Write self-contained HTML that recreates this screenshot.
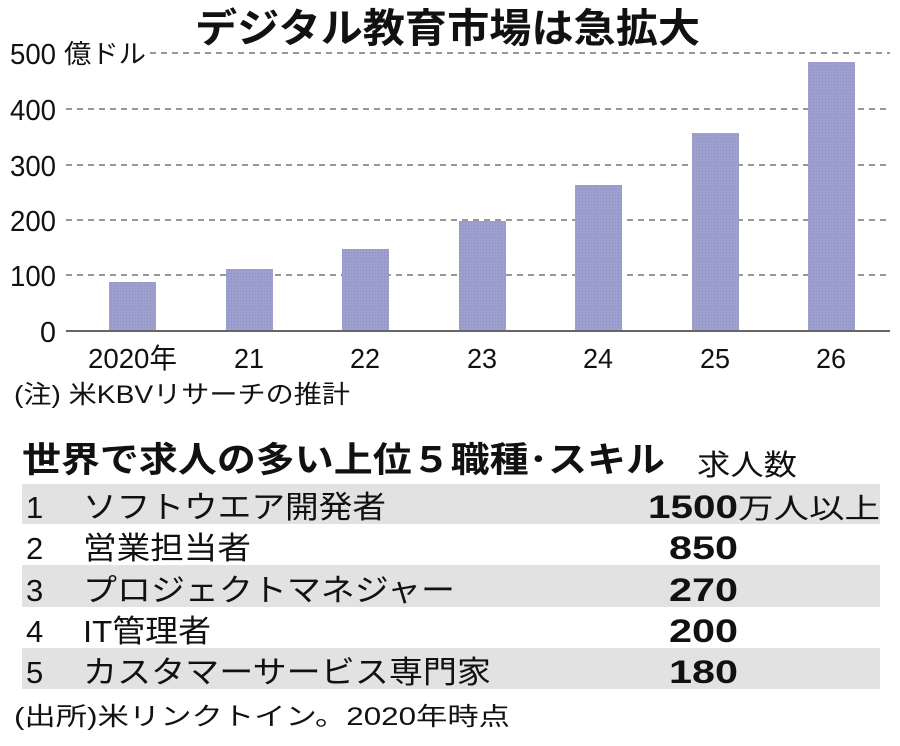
<!DOCTYPE html>
<html><head><meta charset="utf-8"><style>
body{margin:0;background:#fff;}
svg text{font-family:"Liberation Sans","Noto Sans CJK JP",sans-serif;fill:#111;}
</style></head><body>
<svg width="900" height="741" xmlns="http://www.w3.org/2000/svg">
<defs><pattern id="h" width="3" height="3" patternUnits="userSpaceOnUse"><rect width="3" height="3" fill="#9da0cf"/><rect width="1" height="1" fill="#8a8dbf"/></pattern></defs>
<text x="195" y="42" font-size="40" font-weight="bold" textLength="505" lengthAdjust="spacingAndGlyphs">デジタル教育市場は急拡大</text>
<g stroke="#777" stroke-width="1.5" stroke-dasharray="6,5">
<line x1="150" y1="53" x2="890" y2="53"/>
<line x1="66" y1="109" x2="890" y2="109"/>
<line x1="66" y1="165" x2="890" y2="165"/>
<line x1="66" y1="220" x2="890" y2="220"/>
<line x1="66" y1="275" x2="890" y2="275"/>
</g>
<g font-size="29">
<text x="10" y="64" textLength="46" lengthAdjust="spacingAndGlyphs">500</text>
<text x="10" y="120" textLength="46" lengthAdjust="spacingAndGlyphs">400</text>
<text x="10" y="176" textLength="46" lengthAdjust="spacingAndGlyphs">300</text>
<text x="10" y="231" textLength="46" lengthAdjust="spacingAndGlyphs">200</text>
<text x="10" y="286" textLength="46" lengthAdjust="spacingAndGlyphs">100</text>
<text x="40" y="342" textLength="16" lengthAdjust="spacingAndGlyphs">0</text>
</g>
<text x="64" y="63" font-size="26" textLength="82" lengthAdjust="spacingAndGlyphs">億ドル</text>
<g fill="url(#h)">
<rect x="109" y="282" width="47" height="49"/>
<rect x="226" y="269" width="47" height="62"/>
<rect x="342" y="249" width="47" height="82"/>
<rect x="459" y="221" width="47" height="110"/>
<rect x="575" y="185" width="47" height="146"/>
<rect x="692" y="133" width="47" height="198"/>
<rect x="808" y="62" width="47" height="269"/>
</g>
<line x1="66" y1="331" x2="890" y2="331" stroke="#666" stroke-width="2"/>
<g font-size="28">
<text x="88" y="368" textLength="89" lengthAdjust="spacingAndGlyphs">2020年</text>
<text x="234" y="368" textLength="30" lengthAdjust="spacingAndGlyphs">21</text>
<text x="350" y="368" textLength="30" lengthAdjust="spacingAndGlyphs">22</text>
<text x="467" y="368" textLength="30" lengthAdjust="spacingAndGlyphs">23</text>
<text x="583" y="368" textLength="30" lengthAdjust="spacingAndGlyphs">24</text>
<text x="700" y="368" textLength="30" lengthAdjust="spacingAndGlyphs">25</text>
<text x="816" y="368" textLength="30" lengthAdjust="spacingAndGlyphs">26</text>
</g>
<text x="14" y="403" font-size="25" textLength="336" lengthAdjust="spacingAndGlyphs">(注) 米KBVリサーチの推計</text>
<text x="22" y="472" font-size="35" font-weight="bold" textLength="643" lengthAdjust="spacingAndGlyphs">世界で求人の多い上位５職種･スキル</text>
<text x="697" y="475" font-size="29" textLength="100" lengthAdjust="spacingAndGlyphs">求人数</text>
<rect x="22" y="484" width="858" height="40" fill="#e2e2e2"/>
<rect x="22" y="565" width="858" height="42" fill="#e2e2e2"/>
<rect x="22" y="648" width="858" height="41" fill="#e2e2e2"/>
<g font-size="31">
<text x="26" y="518">1</text><text x="83" y="518" textLength="303" lengthAdjust="spacingAndGlyphs">ソフトウエア開発者</text>
<text x="26" y="559">2</text><text x="83" y="559" textLength="168" lengthAdjust="spacingAndGlyphs">営業担当者</text>
<text x="26" y="601">3</text><text x="83" y="601" textLength="372" lengthAdjust="spacingAndGlyphs">プロジェクトマネジャー</text>
<text x="26" y="642">4</text><text x="83" y="642" textLength="128" lengthAdjust="spacingAndGlyphs">IT管理者</text>
<text x="26" y="683">5</text><text x="83" y="683" textLength="408" lengthAdjust="spacingAndGlyphs">カスタマーサービス専門家</text>
</g>
<g font-size="32" font-weight="bold">
<text x="648" y="518" textLength="90" lengthAdjust="spacingAndGlyphs">1500</text>
<text x="669" y="559" textLength="69" lengthAdjust="spacingAndGlyphs">850</text>
<text x="669" y="601" textLength="69" lengthAdjust="spacingAndGlyphs">270</text>
<text x="669" y="642" textLength="69" lengthAdjust="spacingAndGlyphs">200</text>
<text x="669" y="683" textLength="69" lengthAdjust="spacingAndGlyphs">180</text>
</g>
<text x="738" y="518" font-size="28" textLength="142" lengthAdjust="spacingAndGlyphs">万人以上</text>
<text x="14" y="725" font-size="25" textLength="496" lengthAdjust="spacingAndGlyphs">(出所)米リンクトイン。2020年時点</text>
</svg>
</body></html>
